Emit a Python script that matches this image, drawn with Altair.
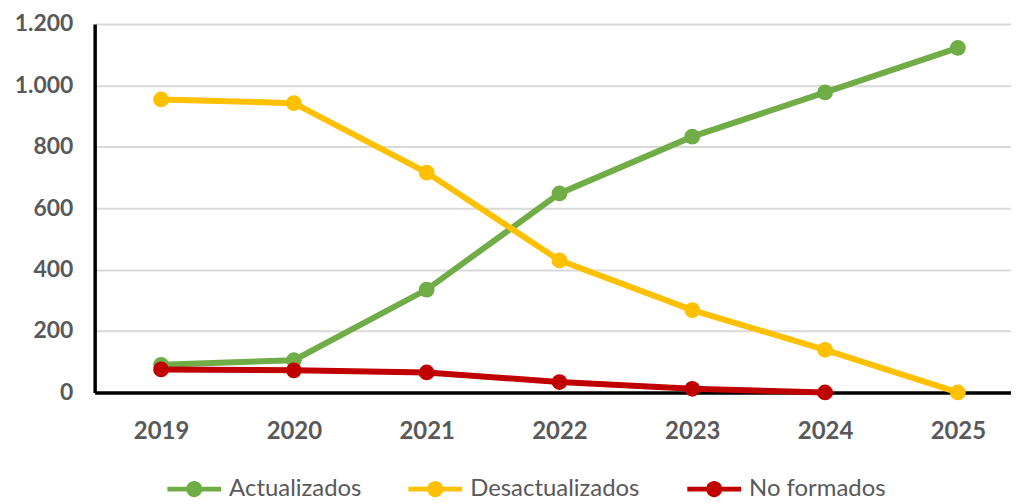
import altair as alt
import pandas as pd

years = [2019, 2020, 2021, 2022, 2023, 2024, 2025]
actualizados = [90, 105, 335, 648, 833, 977, 1122]
desactualizados = [954, 942, 716, 430, 268, 139, 0]
no_formados = [75, 72, 65, 34, 12, 0, None]
series = ["Actualizados", "Desactualizados", "No formados"]
colors = ["#70AD47", "#FFC000", "#C00000"]
y_ticks = [0, 200, 400, 600, 800, 1000, 1200]

rows = []
for name, vals in zip(series, [actualizados, desactualizados, no_formados]):
    for yr, v in zip(years, vals):
        if v is not None:
            rows.append({"year": yr, "value": v, "serie": name})
df = pd.DataFrame(rows)

FONT = "Lato"
GRAY = "#595959"

x = alt.X(
    "year:Q",
    scale=alt.Scale(domain=[2018.5, 2025.4], nice=False, zero=False),
    axis=alt.Axis(values=years, format="d", title=None, grid=False,
                  domainColor="black", domainWidth=3.5, ticks=False,
                  labelFont=FONT, labelFontSize=24, labelFontWeight="bold",
                  labelColor=GRAY, labelPadding=27),
)
y = alt.Y(
    "value:Q",
    scale=alt.Scale(domain=[0, 1200], nice=False),
    axis=alt.Axis(values=y_ticks, title=None, grid=True, gridColor="#d9d9d9",
                  gridWidth=2, domainColor="black", domainWidth=3.5, ticks=False,
                  labelExpr="replace(format(datum.value, ','), ',', '.')",
                  labelFont=FONT, labelFontSize=23, labelFontWeight="bold",
                  labelColor=GRAY, labelPadding=22),
)

sym_path = ("M-1,-0.09L-0.29,-0.09L-0.29,0.09L-1,0.09Z"
            "M0.29,-0.09L1,-0.09L1,0.09L0.29,0.09Z"
            "M-0.3,0A0.3,0.3,0,1,1,0.3,0A0.3,0.3,0,1,1,-0.3,0Z")

legend = alt.Legend(
    title=None, orient="none", legendX=73, legendY=440,
    direction="horizontal", symbolType=sym_path, symbolSize=2916,
    symbolStrokeWidth=0, symbolOpacity=1,
    labelFont=FONT, labelFontSize=24, labelColor=GRAY, labelOffset=8,
    labelLimit=400, columnPadding=47, padding=0,
)
color = alt.Color("serie:N", scale=alt.Scale(domain=series, range=colors),
                  legend=legend)

lines = alt.Chart().mark_line(strokeWidth=6).encode(x=x, y=y, color=color)
points = alt.Chart().mark_point(filled=True, size=250, opacity=1).encode(
    x=x, y=y, color=color)

chart = alt.layer(lines, points, data=df).properties(
    width=920, height=370,
    padding={"left": 87, "top": 15, "right": 0, "bottom": 108},
    autosize=alt.AutoSizeParams(type="none"),
).configure_view(stroke=None)

chart.save("out.html", embed_options={"renderer": "svg", "actions": False})
